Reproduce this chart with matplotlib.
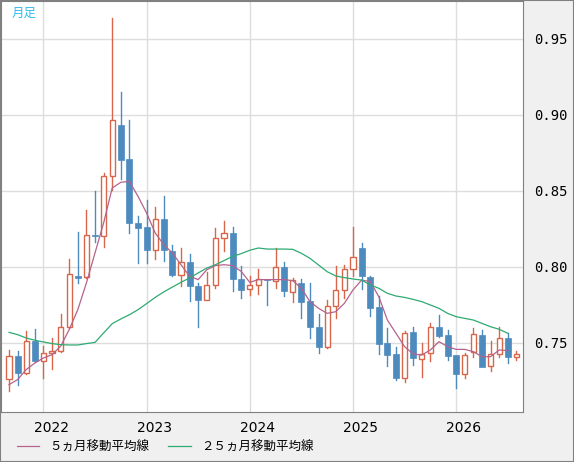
import numpy as np
import matplotlib
matplotlib.use("Agg")
import matplotlib.pyplot as plt
from matplotlib.patches import Rectangle

plt.rcParams['font.family'] = ['Noto Sans CJK JP', 'DejaVu Sans']

# monthly candles, Sep 2021 .. Aug 2026
opens = [0.7263, 0.7417, 0.7303, 0.7513, 0.7384, 0.7434, 0.7450, 0.7605, 0.7943, 0.7934,
         0.8211, 0.8202, 0.8599, 0.8936, 0.8711, 0.8292, 0.8265, 0.8110, 0.8318, 0.8107,
         0.7950, 0.8033, 0.7873, 0.7781, 0.7882, 0.8191, 0.8226, 0.7921, 0.7855, 0.7882,
         0.7921, 0.7910, 0.8000, 0.7838, 0.7895, 0.7776, 0.7605, 0.7471, 0.7746, 0.7849,
         0.7985, 0.8123, 0.7932, 0.7737, 0.7500, 0.7425, 0.7272, 0.7570, 0.7393, 0.7432,
         0.7605, 0.7553, 0.7421, 0.7296, 0.7443, 0.7550, 0.7346, 0.7425, 0.7533, 0.7406]
closes = [0.7412, 0.7303, 0.7513, 0.7384, 0.7434, 0.7450, 0.7605, 0.7954, 0.7928, 0.8211,
          0.8202, 0.8599, 0.8967, 0.8706, 0.8287, 0.8259, 0.8110, 0.8318, 0.8110, 0.7950,
          0.8033, 0.7873, 0.7781, 0.7882, 0.8191, 0.8224, 0.7921, 0.7846, 0.7882, 0.7921,
          0.7912, 0.8000, 0.7840, 0.7914, 0.7772, 0.7607, 0.7471, 0.7746, 0.7849, 0.7985,
          0.8064, 0.7943, 0.7732, 0.7496, 0.7423, 0.7272, 0.7564, 0.7399, 0.7425, 0.7603,
          0.7548, 0.7417, 0.7298, 0.7419, 0.7557, 0.7344, 0.7425, 0.7531, 0.7406, 0.7425]
highs = [0.7456, 0.7445, 0.7577, 0.7592, 0.7482, 0.7533, 0.7693, 0.8055, 0.8228, 0.8377,
         0.8502, 0.8618, 0.9638, 0.9154, 0.8969, 0.8338, 0.8443, 0.8393, 0.8469, 0.8147,
         0.8127, 0.8088, 0.7895, 0.7965, 0.8257, 0.8305, 0.8265, 0.8004, 0.7939, 0.7989,
         0.7921, 0.8125, 0.8035, 0.7925, 0.7921, 0.7895, 0.7689, 0.7783, 0.8007, 0.8011,
         0.8265, 0.8160, 0.7939, 0.7809, 0.7601, 0.7474, 0.7577, 0.7605, 0.7498, 0.7629,
         0.7684, 0.7586, 0.7421, 0.7432, 0.7599, 0.7583, 0.7511, 0.7603, 0.7564, 0.7445]
lows = [0.7182, 0.7221, 0.7296, 0.7373, 0.7268, 0.7329, 0.7439, 0.7599, 0.7895, 0.7928,
        0.8162, 0.8129, 0.8509, 0.8581, 0.8221, 0.8029, 0.8029, 0.8055, 0.8042, 0.7939,
        0.7873, 0.7779, 0.7603, 0.7781, 0.7862, 0.8103, 0.7844, 0.7796, 0.7814, 0.7825,
        0.7752, 0.7860, 0.7807, 0.7772, 0.7662, 0.7531, 0.7436, 0.7465, 0.7662, 0.7798,
        0.7941, 0.7855, 0.7680, 0.7430, 0.7351, 0.7254, 0.7246, 0.7353, 0.7279, 0.7384,
        0.7542, 0.7388, 0.7206, 0.7272, 0.7410, 0.7342, 0.7318, 0.7406, 0.7371, 0.7390]

ma5 = [0.7226, 0.7259, 0.7325, 0.7368, 0.7401, 0.7423, 0.7478, 0.7588, 0.7719, 0.7895,
       0.8092, 0.8289, 0.8520, 0.8557, 0.8564, 0.8465, 0.8355, 0.8224, 0.8147, 0.8092,
       0.8015, 0.7939, 0.7917, 0.7982, 0.8009, 0.8015, 0.8009, 0.7971, 0.7899, 0.7917,
       0.7917, 0.7917, 0.7917, 0.7910, 0.7860, 0.7772, 0.7728, 0.7695, 0.7706, 0.7761,
       0.7849, 0.7914, 0.7904, 0.7805, 0.7651, 0.7564, 0.7476, 0.7428, 0.7421, 0.7454,
       0.7509, 0.7476, 0.7458, 0.7458, 0.7443, 0.7410, 0.7410, 0.7454, 0.7450]
ma25 = [0.7570, 0.7555, 0.7533, 0.7518, 0.7507, 0.7496, 0.7489, 0.7487, 0.7487, 0.7496,
        0.7504, 0.7566, 0.7627, 0.7658, 0.7686, 0.7719, 0.7759, 0.7800, 0.7836, 0.7868,
        0.7899, 0.7928, 0.7961, 0.7993, 0.8015, 0.8042, 0.8070, 0.8088, 0.8110, 0.8125,
        0.8118, 0.8118, 0.8118, 0.8116, 0.8090, 0.8057, 0.8013, 0.7969, 0.7941, 0.7930,
        0.7921, 0.7914, 0.7882, 0.7860, 0.7827, 0.7809, 0.7800, 0.7787, 0.7772, 0.7750,
        0.7728, 0.7695, 0.7673, 0.7662, 0.7651, 0.7629, 0.7607, 0.7590, 0.7564]

year_labels = ["2022", "2023", "2024", "2025", "2026"]
year_idx = [4, 16, 28, 40, 52]
yticks = [0.75, 0.80, 0.85, 0.90, 0.95]

up_c = "#d8664b"
dn_c = "#4d8bbf"

fig = plt.figure(figsize=(5.74, 4.62), dpi=100, facecolor="#f0f0f0")
ax = fig.add_axes([1/574, 50/462, 522/574, 411/462])
ax.set_facecolor("white")

for i in range(len(opens)):
    o, c, h, l = opens[i], closes[i], highs[i], lows[i]
    col = up_c if c >= o else dn_c
    lo, hi = min(o, c), max(o, c)
    ax.plot([i, i], [l, lo], color=col, lw=1, zorder=2)
    ax.plot([i, i], [hi, h], color=col, lw=1, zorder=2)
    if c >= o:
        ax.add_patch(Rectangle((i - 0.3, lo), 0.6, max(hi - lo, 0.0008), facecolor="white",
                               edgecolor=col, lw=1, zorder=3))
    else:
        ax.add_patch(Rectangle((i - 0.35, lo), 0.7, max(hi - lo, 0.0008), facecolor=col,
                               edgecolor=col, lw=0.5, zorder=3))

l5, = ax.plot(range(len(ma5)), ma5, color="#b5638c", lw=0.9, zorder=4)
l25, = ax.plot(range(len(ma25)), ma25, color="#2eaa72", lw=0.9, zorder=4)

ax.set_xlim(-0.93, 59.77)
ax.set_ylim(0.7046, 0.975)
ax.set_xticks(year_idx)
ax.set_xticklabels([])
for xi, lab in zip(year_idx, year_labels):
    ax.text(xi + 0.9, -0.04, lab, transform=ax.get_xaxis_transform(), ha="center", va="center",
            fontsize=10, family="DejaVu Sans")
ax.yaxis.tick_right()
ax.set_yticks(yticks)
ax.set_yticklabels(["%.2f" % v for v in yticks], fontsize=10, family="DejaVu Sans Mono")
ax.tick_params(length=0, pad=8)
ax.grid(True, color="#dddddd", lw=1)
ax.set_axisbelow(True)
for s in ax.spines.values():
    s.set_color("#808080")
ax.text(0.02, 0.985, "月足", transform=ax.transAxes, color="#33bbee", fontsize=9, va="top")

fig.legend([l5, l25], ["５ヵ月移動平均線", "２５ヵ月移動平均線"], loc="center left",
           bbox_to_anchor=(0.01, 32 / 462 * 0 + 15 / 462), ncol=2, frameon=False, fontsize=9,
           handlelength=1.8, columnspacing=1.5)
fig.patches.append(Rectangle((0, 0), 1, 1, transform=fig.transFigure, fill=False,
                             edgecolor="#808080", lw=1.5))
fig.savefig("out.png", dpi=100, facecolor=fig.get_facecolor())
